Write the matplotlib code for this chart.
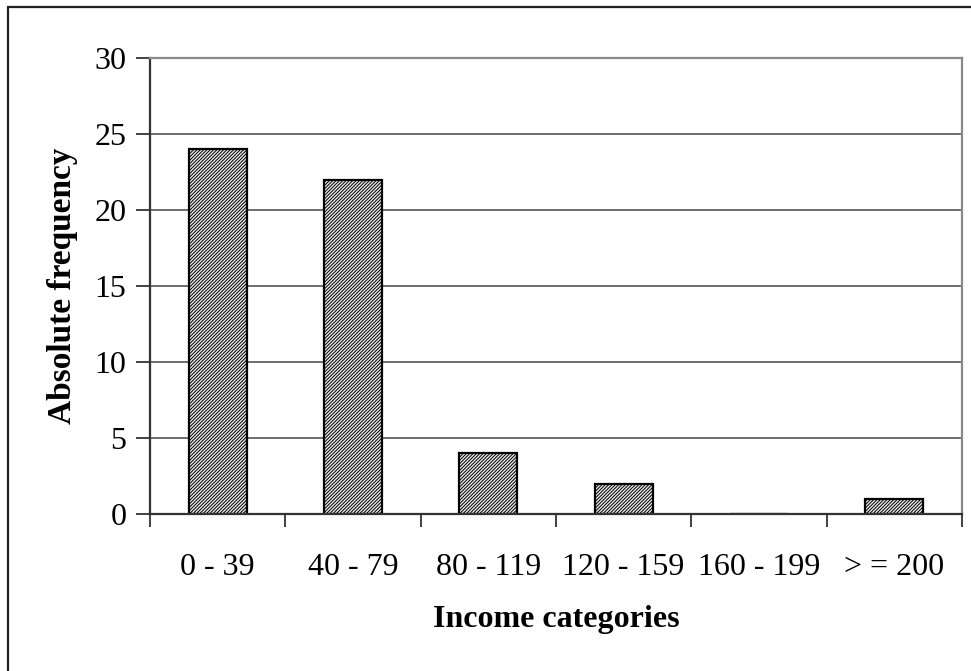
import matplotlib
matplotlib.use("Agg")
import matplotlib.pyplot as plt
from matplotlib.patches import Rectangle

categories = ["0 - 39", "40 - 79", "80 - 119", "120 - 159", "160 - 199", "> = 200"]
frequencies = [24, 22, 4, 2, 0, 1]
y_ticks = [0, 5, 10, 15, 20, 25, 30]

plt.rcParams["font.family"] = ["Liberation Serif", "DejaVu Serif"]
plt.rcParams["hatch.linewidth"] = 0.7
plt.rcParams["hatch.color"] = "#707070"

W, H = 971, 671
fig = plt.figure(figsize=(W / 100, H / 100), dpi=100)

# outer chart frame (open to the right and bottom)
frame = Rectangle((8 / W, -0.05), 1.1, 1 - 7 / H + 0.05, transform=fig.transFigure,
                  fill=False, edgecolor="#222222", linewidth=1.6, clip_on=False)
fig.patches.append(frame)

ax = fig.add_axes([150 / W, 1 - 514 / H, (962 - 150) / W, (514 - 58) / H])

x = list(range(len(categories)))
ax.bar(x, frequencies, width=0.43, facecolor="#e8e8e8", edgecolor="black",
       linewidth=1.6, hatch="//////////", zorder=2)

ax.set_xlim(-0.5, len(categories) - 0.5)
ax.set_ylim(0, 30)
ax.set_yticks(y_ticks)
ax.set_yticklabels([str(v) for v in y_ticks], fontsize=23)
ax.yaxis.grid(True, color="#6e6e6e", linewidth=1.4, zorder=0)
ax.set_axisbelow(True)

# category labels centered, ticks between categories
ax.set_xticks(x)
ax.set_xticklabels(categories, fontsize=23)
ax.tick_params(axis="x", which="major", length=0, pad=28)
ax.set_xticks([i - 0.5 for i in range(len(categories) + 1)], minor=True)
ax.tick_params(axis="x", which="minor", length=9, width=1.3, direction="out", color="#333333")
ax.tick_params(axis="y", length=10, width=1.3, direction="out", color="#333333", pad=7)

for side in ["left", "bottom"]:
    ax.spines[side].set_color("#333333")
    ax.spines[side].set_linewidth(1.6)
for side in ["top", "right"]:
    ax.spines[side].set_color("#8a8a8a")
    ax.spines[side].set_linewidth(1.6)

ax.set_xlabel("Income categories", fontsize=23, fontweight="bold", labelpad=17)
ax.set_ylabel("Absolute frequency", fontsize=24, fontweight="bold", labelpad=12)

fig.savefig("out.png", dpi=100)
